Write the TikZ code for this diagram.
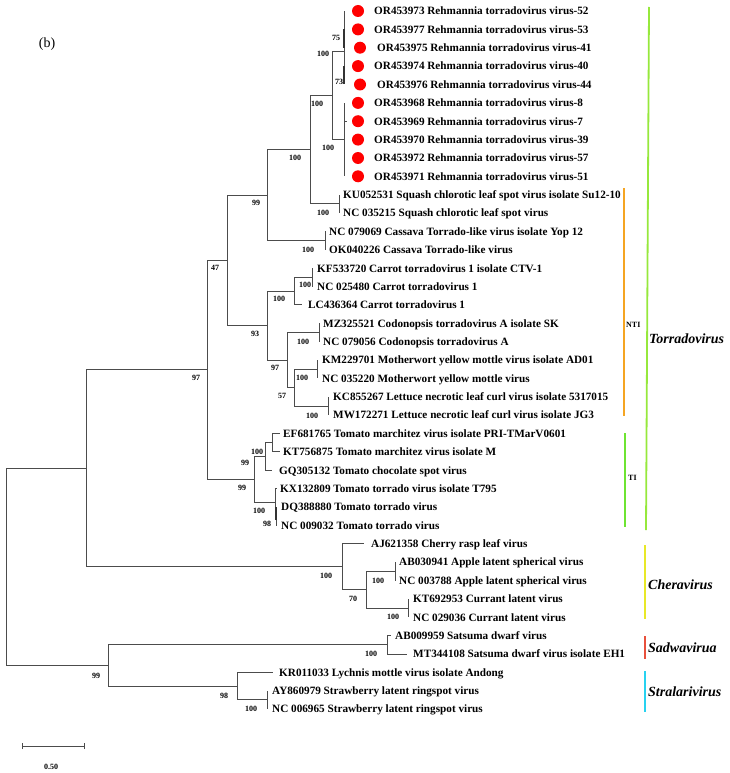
\documentclass[tikz,border=0pt]{standalone}
\usepackage{fontspec}
\setmainfont{Liberation Serif}
\definecolor{torrc}{RGB}{150,232,60}
\definecolor{ntic}{RGB}{245,165,35}
\definecolor{tic}{RGB}{110,228,50}
\definecolor{cherc}{RGB}{232,232,40}
\definecolor{sadc}{RGB}{232,80,60}
\definecolor{strc}{RGB}{40,210,240}
\begin{document}
\begin{tikzpicture}[x=1pt,y=-1pt,
  br/.style={draw=black!70, line width=0.9pt},
  lf/.style={anchor=base west, inner sep=0pt, font=\fontsize{11.2}{13}\selectfont\bfseries},
  bs/.style={inner sep=0pt, font=\fontsize{8}{9}\selectfont\bfseries},
  grp/.style={anchor=base west, inner sep=0pt, font=\fontsize{14}{16}\selectfont\bfseries\itshape},
  cl/.style={anchor=base west, inner sep=0pt, font=\fontsize{8}{9}\selectfont\bfseries},
  reddot/.style={circle, fill=red, inner sep=0pt, minimum size=12pt},
  bar/.style={line width=1.8pt}]
\useasboundingbox (0,0) rectangle (729,773);
% internal nodes
\coordinate (R) at (6,566.7);
\coordinate (N86) at (86,468.3);
\coordinate (N108) at (108,665.4);
\coordinate (N207) at (207,369.9);
\coordinate (N227) at (227,260.4);
\coordinate (N267a) at (267,195.1);
\coordinate (N310) at (310,149.6);
\coordinate (N332) at (332,95.3);
\coordinate (NA) at (344,51);
\coordinate (NL) at (344,139.6);
\coordinate (N339) at (339,203.9);
\coordinate (N325) at (325,240.6);
\coordinate (N267b) at (267,325.6);
\coordinate (N294a) at (294,291.2);
\coordinate (N312) at (312,277.4);
\coordinate (N287) at (287,360.05);
\coordinate (N319) at (319,332.5);
\coordinate (N294b) at (294,387.6);
\coordinate (N317) at (317,369.2);
\coordinate (N328) at (328,406);
\coordinate (N254) at (254,479.45);
\coordinate (N265) at (265,456.5);
\coordinate (N272) at (272,442.7);
\coordinate (N275) at (275,502.4);
\coordinate (N276) at (276,516.2);
\coordinate (N342) at (342,566.75);
\coordinate (N366) at (366,589.7);
\coordinate (N395) at (395,571.3);
\coordinate (N408) at (408,608);
\coordinate (N387) at (387,644.8);
\coordinate (N237) at (237,686.1);
\coordinate (N267c) at (267,699.9);
% leaf ends
\coordinate (L1) at (344,11);
\coordinate (L2) at (344,29.4);
\coordinate (L3) at (344,47.7);
\coordinate (L4) at (344,66.1);
\coordinate (L5) at (344,84.5);
\coordinate (L6) at (344,102.9);
\coordinate (L7) at (344,121.2);
\coordinate (L8) at (344,139.6);
\coordinate (L9) at (344,158);
\coordinate (L10) at (344,176.3);
\coordinate (L11) at (339,194.7);
\coordinate (L12) at (339,213);
\coordinate (L13) at (325,231.4);
\coordinate (L14) at (325,249.8);
\coordinate (L15) at (312,268.2);
\coordinate (L16) at (312,286.6);
\coordinate (L17) at (302,304.9);
\coordinate (L18) at (319,323.3);
\coordinate (L19) at (319,341.7);
\coordinate (L20) at (317,360);
\coordinate (L21) at (317,378.4);
\coordinate (L22) at (328,396.8);
\coordinate (L23) at (328,415.1);
\coordinate (L24) at (280,433.5);
\coordinate (L25) at (280,451.9);
\coordinate (L26) at (272,470.3);
\coordinate (L27) at (277,488.6);
\coordinate (L28) at (277,507);
\coordinate (L29) at (277,525.4);
\coordinate (L30) at (364,543.8);
\coordinate (L31) at (395,562.1);
\coordinate (L32) at (395,580.5);
\coordinate (L33) at (408,598.9);
\coordinate (L34) at (408,617.2);
\coordinate (L35) at (391,635.6);
\coordinate (L36) at (407,654);
\coordinate (L37) at (273,672.3);
\coordinate (L38) at (267,690.7);
\coordinate (L39) at (267,709.1);
% branches
\draw[br] (R) |- (N86);  \draw[br] (R) |- (N108);
\draw[br] (N86) |- (N207); \draw[br] (N86) |- (N342);
\draw[br] (N207) |- (N227); \draw[br] (N207) |- (N254);
\draw[br] (N227) |- (N267a); \draw[br] (N227) |- (N267b);
\draw[br] (N267a) |- (N310); \draw[br] (N267a) |- (N325);
\draw[br] (N310) |- (N332); \draw[br] (N310) |- (N339);
\draw[br] (N332) |- (NA); \draw[br] (N332) |- (NL);
\foreach \i in {1,...,5} {\draw[br] (NA) |- (L\i);}
\foreach \i in {6,...,10} {\draw[br] (NL) |- (L\i);}
\draw[black!80, line width=1.8pt] (L2) -- (L3);
\draw[black!80, line width=1.8pt] (L4) -- (L5);
\coordinate (tk) at (347,121.2);
\draw[br] (L7) -- (tk);
\draw[br] (N339) |- (L11); \draw[br] (N339) |- (L12);
\draw[br] (N325) |- (L13); \draw[br] (N325) |- (L14);
\draw[br] (N267b) |- (N294a); \draw[br] (N267b) |- (N287);
\draw[br] (N294a) |- (N312); \draw[br] (N294a) |- (L17);
\draw[br] (N312) |- (L15); \draw[br] (N312) |- (L16);
\draw[br] (N287) |- (N319); \draw[br] (N287) |- (N294b);
\draw[br] (N319) |- (L18); \draw[br] (N319) |- (L19);
\draw[br] (N294b) |- (N317); \draw[br] (N294b) |- (N328);
\draw[br] (N317) |- (L20); \draw[br] (N317) |- (L21);
\draw[br] (N328) |- (L22); \draw[br] (N328) |- (L23);
\draw[br] (N254) |- (N265); \draw[br] (N254) |- (N275);
\draw[br] (N265) |- (N272); \draw[br] (N265) |- (L26);
\draw[br] (N272) |- (L24); \draw[br] (N272) |- (L25);
\draw[br] (N275) |- (L27); \draw[br] (N275) |- (N276);
\draw[br] (N276) |- (L28); \draw[br] (N276) |- (L29);
\coordinate (tt1) at (276,507); \coordinate (tt2) at (276,520);
\draw[black!80, line width=1.8pt] (tt1) -- (tt2);
\draw[br] (N342) |- (L30); \draw[br] (N342) |- (N366);
\draw[br] (N366) |- (N395); \draw[br] (N366) |- (N408);
\draw[br] (N395) |- (L31); \draw[br] (N395) |- (L32);
\draw[br] (N408) |- (L33); \draw[br] (N408) |- (L34);
\draw[br] (N108) |- (N387); \draw[br] (N108) |- (N237);
\draw[br] (N387) |- (L35); \draw[br] (N387) |- (L36);
\draw[br] (N237) |- (L37); \draw[br] (N237) |- (N267c);
\draw[br] (N267c) |- (L38); \draw[br] (N267c) |- (L39);
% red dots
\node[reddot] (d1) at (358,11) {};
\node[reddot] (d2) at (358,29.4) {};
\node[reddot] (d3) at (360,47.7) {};
\node[reddot] (d4) at (358,66.1) {};
\node[reddot] (d5) at (360,84.5) {};
\node[reddot] (d6) at (358,102.9) {};
\node[reddot] (d7) at (358,121.2) {};
\node[reddot] (d8) at (358,139.6) {};
\node[reddot] (d9) at (358,158) {};
\node[reddot] (d10) at (358,176.3) {};
% leaf labels
\node[lf] (t1) at (374,14.8) {OR453973 Rehmannia torradovirus virus-52};
\node[lf] (t2) at (374,33.2) {OR453977 Rehmannia torradovirus virus-53};
\node[lf] (t3) at (377,51.5) {OR453975 Rehmannia torradovirus virus-41};
\node[lf] (t4) at (374,69.9) {OR453974 Rehmannia torradovirus virus-40};
\node[lf] (t5) at (377,88.3) {OR453976 Rehmannia torradovirus virus-44};
\node[lf] (t6) at (374,106.7) {OR453968 Rehmannia torradovirus virus-8};
\node[lf] (t7) at (374,125) {OR453969 Rehmannia torradovirus virus-7};
\node[lf] (t8) at (374,143.4) {OR453970 Rehmannia torradovirus virus-39};
\node[lf] (t9) at (374,161.8) {OR453972 Rehmannia torradovirus virus-57};
\node[lf] (t10) at (374,180.1) {OR453971 Rehmannia torradovirus virus-51};
\node[lf] (t11) at (343,198.5) {KU052531 Squash chlorotic leaf spot virus isolate Su12-10};
\node[lf] (t12) at (343,216.8) {NC 035215 Squash chlorotic leaf spot virus};
\node[lf] (t13) at (329,235.2) {NC 079069 Cassava Torrado-like virus isolate Yop 12};
\node[lf] (t14) at (329,253.6) {OK040226 Cassava Torrado-like virus};
\node[lf] (t15) at (317,272) {KF533720 Carrot torradovirus 1 isolate CTV-1};
\node[lf] (t16) at (317,290.4) {NC 025480 Carrot torradovirus 1};
\node[lf] (t17) at (308,308.7) {LC436364 Carrot torradovirus 1};
\node[lf] (t18) at (323,327.1) {MZ325521 Codonopsis torradovirus A isolate SK};
\node[lf] (t19) at (323,345.5) {NC 079056 Codonopsis torradovirus A};
\node[lf] (t20) at (322,363.8) {KM229701 Motherwort yellow mottle virus isolate AD01};
\node[lf] (t21) at (322,382.2) {NC 035220 Motherwort yellow mottle virus};
\node[lf] (t22) at (333,400.6) {KC855267 Lettuce necrotic leaf curl virus isolate 5317015};
\node[lf] (t23) at (333,418.9) {MW172271 Lettuce necrotic leaf curl virus isolate JG3};
\node[lf] (t24) at (283,437.3) {EF681765 Tomato marchitez virus isolate PRI-TMarV0601};
\node[lf] (t25) at (283,455.7) {KT756875 Tomato marchitez virus isolate M};
\node[lf] (t26) at (279,474.1) {GQ305132 Tomato chocolate spot virus};
\node[lf] (t27) at (280,492.4) {KX132809 Tomato torrado virus isolate T795};
\node[lf] (t28) at (281,510.8) {DQ388880 Tomato torrado virus};
\node[lf] (t29) at (281,529.2) {NC 009032 Tomato torrado virus};
\node[lf] (t30) at (371,547.6) {AJ621358 Cherry rasp leaf virus};
\node[lf] (t31) at (399,565.9) {AB030941 Apple latent spherical virus};
\node[lf] (t32) at (399,584.3) {NC 003788 Apple latent spherical virus};
\node[lf] (t33) at (413,602.7) {KT692953 Currant latent virus};
\node[lf] (t34) at (413,621) {NC 029036 Currant latent virus};
\node[lf] (t35) at (395,639.4) {AB009959 Satsuma dwarf virus};
\node[lf] (t36) at (413,657.8) {MT344108 Satsuma dwarf virus isolate EH1};
\node[lf] (t37) at (279,676.1) {KR011033 Lychnis mottle virus isolate Andong};
\node[lf] (t38) at (272,694.5) {AY860979 Strawberry latent ringspot virus};
\node[lf] (t39) at (272,712.9) {NC 006965 Strawberry latent ringspot virus};
% bootstrap values
\node[bs] (b1) at (323,54) {100};
\node[bs] (b2) at (336,38) {75};
\node[bs] (b3) at (339,82) {73};
\node[bs] (b4) at (328,148) {100};
\node[bs] (b5) at (317,104) {100};
\node[bs] (b6) at (295,158) {100};
\node[bs] (b7) at (323,213) {100};
\node[bs] (b8) at (308,250) {100};
\node[bs] (b9) at (256,203) {99};
\node[bs] (b10) at (215,268) {47};
\node[bs] (b11) at (196,378) {97};
\node[bs] (b12) at (255,334) {93};
\node[bs] (b13) at (279,299) {100};
\node[bs] (b14) at (305,285) {100};
\node[bs] (b15) at (275,368) {97};
\node[bs] (b16) at (303,342) {100};
\node[bs] (b17) at (282,396) {57};
\node[bs] (b18) at (302,378) {100};
\node[bs] (b19) at (312,416) {100};
\node[bs] (b20) at (257,452) {100};
\node[bs] (b21) at (245,463) {99};
\node[bs] (b22) at (242,488) {99};
\node[bs] (b23) at (259,511) {100};
\node[bs] (b24) at (267,524) {98};
\node[bs] (b25) at (326,576) {100};
\node[bs] (b26) at (353,599) {70};
\node[bs] (b27) at (378,581) {100};
\node[bs] (b28) at (393,617) {100};
\node[bs] (b29) at (96,676) {99};
\node[bs] (b30) at (371,654) {100};
\node[bs] (b31) at (224,696) {98};
\node[bs] (b32) at (251,709) {100};
% clade bars
\coordinate (torT) at (649,7); \coordinate (torB) at (646,530);
\draw[bar, torrc] (torT) -- (torB);
\coordinate (ntiT) at (624,188); \coordinate (ntiB) at (624,416);
\draw[bar, ntic] (ntiT) -- (ntiB);
\coordinate (tiT) at (625,433); \coordinate (tiB) at (625,527);
\draw[bar, tic] (tiT) -- (tiB);
\coordinate (chT) at (645,545); \coordinate (chB) at (645,619);
\draw[bar, cherc] (chT) -- (chB);
\coordinate (saT) at (645,636); \coordinate (saB) at (645,659);
\draw[bar, sadc] (saT) -- (saB);
\coordinate (stT) at (645,671); \coordinate (stB) at (645,712);
\draw[bar, strc] (stT) -- (stB);
\node[cl] (nti) at (626,327) {NTI};
\node[cl] (ti) at (628,480) {TI};
\node[grp] (g1) at (649,343) {Torradovirus};
\node[grp] (g2) at (648,589) {Cheravirus};
\node[grp] (g3) at (648,652) {Sadwavirua};
\node[grp] (g4) at (648,696) {Stralarivirus};
% scale bar
\coordinate (sb1) at (22,746); \coordinate (sb2) at (84,746);
\draw[br] (sb1) -- (sb2);
\draw[br] ([yshift=-3pt]sb1) -- ([yshift=3pt]sb1);
\draw[br] ([yshift=-3pt]sb2) -- ([yshift=3pt]sb2);
\node[bs] (sbl) at (51,767) {0.50};
\node[inner sep=0pt, font=\fontsize{14}{16}\selectfont] (lab) at (47,44) {(b)};
\end{tikzpicture}
\end{document}
